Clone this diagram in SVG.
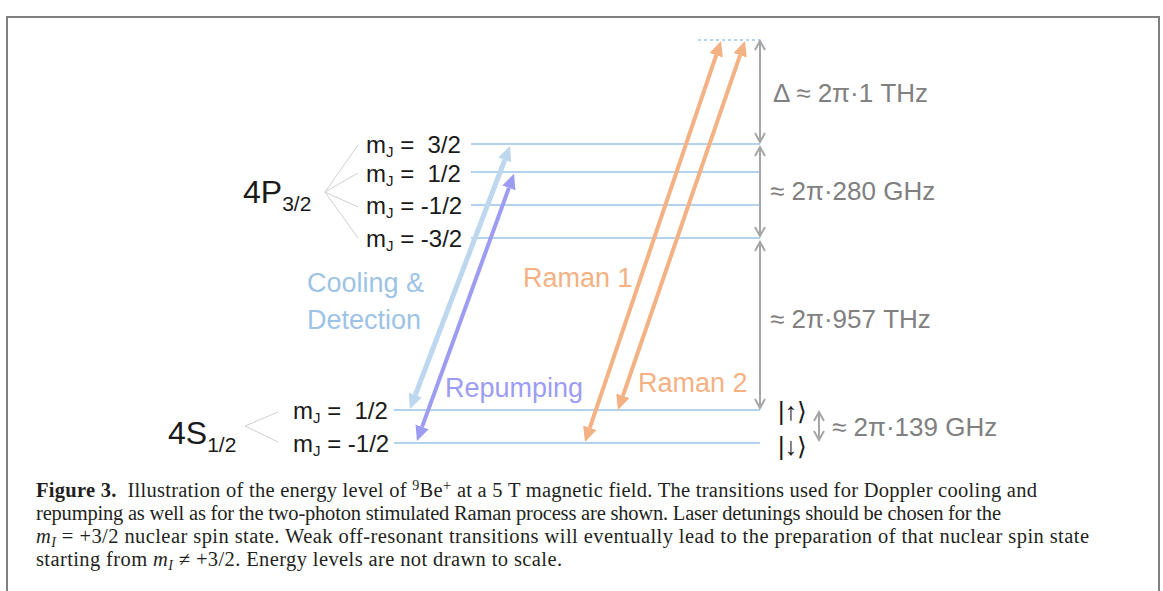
<svg xmlns="http://www.w3.org/2000/svg" width="1163" height="591" viewBox="0 0 1163 591">
<style>
.lbl{font-family:"Liberation Sans",Arial,sans-serif;fill:#1a1a1a}
.gray{font-family:"Liberation Sans",Arial,sans-serif;fill:#808080;font-size:26px}
.lev{stroke:#9dc3e6;stroke-width:1.5;fill:none}
.fan{stroke:#d0d0d0;stroke-width:1;fill:none}
.cap{font-family:"Liberation Serif","Times New Roman",serif;font-size:20.5px;fill:#231f20}
.garr{stroke:#a6a6a6;stroke-width:2;fill:none;marker-start:url(#mg);marker-end:url(#mg)}
</style>
<defs>
<marker id="mb" markerUnits="userSpaceOnUse" viewBox="0 -8 16 16" markerWidth="16" markerHeight="16" refX="0" refY="0" orient="auto-start-reverse"><path d="M0,-7 L15,0 L0,7 z" fill="#bdd7ee"/></marker>
<marker id="mp" markerUnits="userSpaceOnUse" viewBox="0 -8 16 16" markerWidth="16" markerHeight="16" refX="0" refY="0" orient="auto-start-reverse"><path d="M0,-7 L15,0 L0,7 z" fill="#9d9cf3"/></marker>
<marker id="mo" markerUnits="userSpaceOnUse" viewBox="0 -8 16 16" markerWidth="16" markerHeight="16" refX="0" refY="0" orient="auto-start-reverse"><path d="M0,-7 L15,0 L0,7 z" fill="#f4b183"/></marker>
<marker id="mg" markerUnits="userSpaceOnUse" viewBox="-10 -6 12 12" markerWidth="12" markerHeight="12" refX="0" refY="0" orient="auto-start-reverse"><path d="M-9,-5 L0,0 L-9,5" fill="none" stroke="#a6a6a6" stroke-width="2"/></marker>
</defs>
<rect width="1163" height="591" fill="#fff"/>
<path d="M7,591 V17 H1159 V591" fill="none" stroke="#808080" stroke-width="2"/>

<g id="P32">
<text class="lbl" x="243" y="203" font-size="32">4P<tspan font-size="21" dy="8">3/2</tspan></text>
<path class="fan" d="M358,145 L325,192 L358,238 M325,192 L358,173 M325,192 L358,207"/>
</g>
<g id="P-m3_2">
<text class="lbl" x="366" y="153" font-size="24">m<tspan font-size="15" dy="4">J</tspan><tspan dy="-4"> =&#160;&#160;3/2</tspan></text>
<line class="lev" x1="471" y1="144" x2="760" y2="144"/>
</g>
<g id="P-m1_2">
<text class="lbl" x="366" y="182" font-size="24">m<tspan font-size="15" dy="4">J</tspan><tspan dy="-4"> =&#160;&#160;1/2</tspan></text>
<line class="lev" x1="471" y1="172" x2="760" y2="172"/>
</g>
<g id="P-mm1_2">
<text class="lbl" x="366" y="214" font-size="24">m<tspan font-size="15" dy="4">J</tspan><tspan dy="-4"> = -1/2</tspan></text>
<line class="lev" x1="471" y1="205" x2="760" y2="205"/>
</g>
<g id="P-mm3_2">
<text class="lbl" x="366" y="247" font-size="24">m<tspan font-size="15" dy="4">J</tspan><tspan dy="-4"> = -3/2</tspan></text>
<line class="lev" x1="471" y1="238" x2="760" y2="238"/>
</g>
<g id="virtual">
<line x1="698" y1="40" x2="760" y2="40" stroke="#9dc3e6" stroke-width="1.5" stroke-dasharray="3,3"/>
</g>
<g id="S12">
<text class="lbl" x="168" y="444" font-size="32">4S<tspan font-size="21" dy="8">1/2</tspan></text>
<path class="fan" d="M278,412 L245,426 L278,442"/>
</g>
<g id="S-up">
<text class="lbl" x="293" y="419" font-size="24">m<tspan font-size="15" dy="4">J</tspan><tspan dy="-4"> =&#160;&#160;1/2</tspan></text>
<line class="lev" x1="394" y1="410" x2="760" y2="410"/>
<text class="lbl" x="778" y="420" font-size="25">|↑⟩</text>
</g>
<g id="S-down">
<text class="lbl" x="293" y="452" font-size="24">m<tspan font-size="15" dy="4">J</tspan><tspan dy="-4"> = -1/2</tspan></text>
<line class="lev" x1="394" y1="443" x2="760" y2="443"/>
<text class="lbl" x="778" y="455" font-size="25">|↓⟩</text>
</g>

<g id="connectors">
<line x1="415.3" y1="395.0" x2="504.7" y2="160.0" stroke="#bdd7ee" stroke-width="5" marker-start="url(#mb)" marker-end="url(#mb)"/>
<line x1="422.1" y1="426.9" x2="508.9" y2="187.9" stroke="#9d9cf3" stroke-width="4" marker-start="url(#mp)" marker-end="url(#mp)"/>
<line x1="589.8" y1="427.8" x2="716.2" y2="55.2" stroke="#f4b183" stroke-width="4" marker-start="url(#mo)" marker-end="url(#mo)"/>
<line x1="622.9" y1="395.8" x2="740.1" y2="55.2" stroke="#f4b183" stroke-width="4" marker-start="url(#mo)" marker-end="url(#mo)"/>
<line class="garr" x1="760" y1="41" x2="760" y2="142"/>
<line class="garr" x1="760" y1="147" x2="760" y2="236"/>
<line class="garr" x1="760" y1="242" x2="760" y2="408"/>
<line class="garr" x1="819" y1="412" x2="819" y2="440"/>
</g>

<g id="labels">
<text class="gray" x="773" y="102">Δ ≈ 2π·1 THz</text>
<text class="gray" x="770" y="200">≈ 2π·280 GHz</text>
<text class="gray" x="770" y="328">≈ 2π·957 THz</text>
<text class="gray" x="832" y="436">≈ 2π·139 GHz</text>
<text x="307" y="292" font-family="Liberation Sans,Arial,sans-serif" font-size="27" fill="#9dc3e6">Cooling &amp;</text>
<text x="307" y="329" font-family="Liberation Sans,Arial,sans-serif" font-size="27" fill="#9dc3e6">Detection</text>
<text x="523" y="287" font-family="Liberation Sans,Arial,sans-serif" font-size="27" fill="#f4b183">Raman 1</text>
<text x="638" y="392" font-family="Liberation Sans,Arial,sans-serif" font-size="27" fill="#f4b183">Raman 2</text>
<text x="445" y="397" font-family="Liberation Sans,Arial,sans-serif" font-size="27" fill="#9d9cf3">Repumping</text>
</g>

<g id="caption">
<text class="cap" x="36" y="497" textLength="1001" lengthAdjust="spacing"><tspan font-weight="bold">Figure 3.</tspan>&#160;&#160;Illustration of the energy level of <tspan font-size="14" dy="-7">9</tspan><tspan dy="7">Be</tspan><tspan font-size="15" dy="-7">+</tspan><tspan dy="7"> at a 5 T magnetic field. The transitions used for Doppler cooling and</tspan></text>
<text class="cap" x="36" y="520" textLength="965" lengthAdjust="spacing">repumping as well as for the two-photon stimulated Raman process are shown. Laser detunings should be chosen for the</text>
<text class="cap" x="36" y="543" textLength="1053" lengthAdjust="spacing"><tspan font-style="italic">m</tspan><tspan font-style="italic" font-size="14" dy="4">I</tspan><tspan dy="-4"> = +3/2 nuclear spin state. Weak off-resonant transitions will eventually lead to the preparation of that nuclear spin state</tspan></text>
<text class="cap" x="36" y="566" textLength="526" lengthAdjust="spacing">starting from <tspan font-style="italic">m</tspan><tspan font-style="italic" font-size="14" dy="4">I</tspan><tspan dy="-4"> ≠ +3/2. Energy levels are not drawn to scale.</tspan></text>
</g>
</svg>
